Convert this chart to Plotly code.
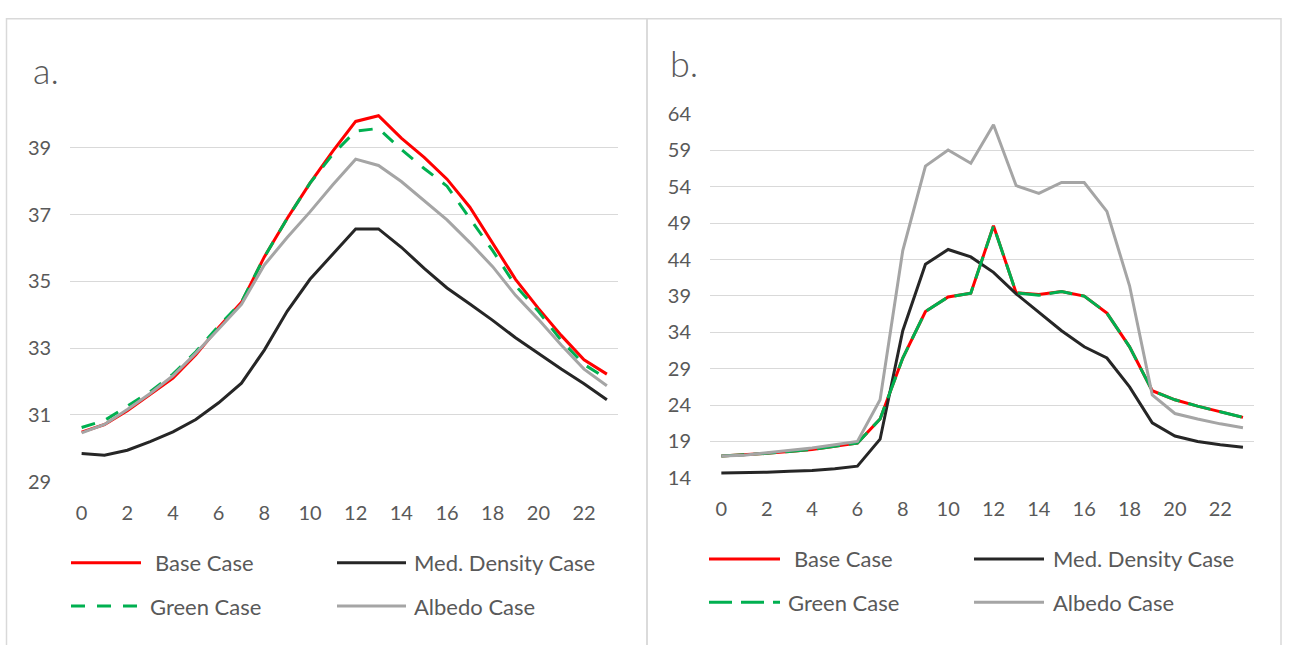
import plotly.graph_objects as go

W, H = 1289, 645

hours = list(range(24))
x_ticks = list(range(0, 24, 2))

series_names = ["Base Case", "Med. Density Case", "Green Case", "Albedo Case"]
series_colors = ["#FF0000", "#262626", "#00B050", "#A5A5A5"]

# Panel a
a_base = [30.48, 30.71, 31.12, 31.60, 32.10, 32.80, 33.62, 34.37, 35.73, 36.88, 37.94, 38.90,
          39.79, 39.96, 39.29, 38.71, 38.06, 37.22, 36.16, 35.06, 34.19, 33.38, 32.65, 32.22]
a_med = [29.84, 29.79, 29.94, 30.20, 30.49, 30.86, 31.36, 31.95, 32.94, 34.10, 35.06, 35.83,
         36.57, 36.57, 36.02, 35.39, 34.80, 34.32, 33.83, 33.31, 32.83, 32.37, 31.93, 31.45]
a_green = [30.62, 30.83, 31.26, 31.69, 32.22, 32.89, 33.66, 34.38, 35.73, 36.88, 37.94, 38.81,
           39.50, 39.58, 38.95, 38.38, 37.85, 36.88, 35.92, 34.87, 34.10, 33.23, 32.51, 32.08]
a_albedo = [30.46, 30.71, 31.16, 31.64, 32.17, 32.85, 33.57, 34.31, 35.49, 36.31, 37.08, 37.89,
            38.66, 38.47, 37.99, 37.41, 36.84, 36.16, 35.44, 34.58, 33.86, 33.09, 32.37, 31.87]
a_yticks = [29, 31, 33, 35, 37, 39]

# Panel b
b_base = [17.00, 17.13, 17.35, 17.62, 17.88, 18.33, 18.77, 22.08, 30.46, 36.86, 38.85, 39.38,
          48.64, 39.42, 39.20, 39.60, 38.98, 36.64, 32.00, 25.96, 24.72, 23.84, 23.05, 22.30]
b_med = [14.66, 14.66, 14.75, 14.88, 15.00, 15.24, 15.59, 19.30, 34.21, 43.35, 45.38, 44.36,
         42.24, 39.29, 36.73, 34.21, 32.00, 30.46, 26.49, 21.55, 19.74, 18.99, 18.55, 18.20]
b_green = [17.00, 17.13, 17.35, 17.62, 17.88, 18.33, 18.77, 22.08, 30.46, 36.86, 38.85, 39.38,
           48.64, 39.42, 39.10, 39.60, 38.98, 36.64, 32.00, 25.96, 24.72, 23.84, 23.05, 22.30]
b_albedo = [17.00, 17.09, 17.44, 17.75, 18.10, 18.55, 18.99, 24.72, 45.24, 56.85, 59.06, 57.25,
            62.54, 54.16, 53.10, 54.60, 54.60, 50.63, 40.39, 25.39, 22.83, 22.08, 21.41, 20.88]
b_yticks = [14, 19, 24, 29, 34, 39, 44, 49, 54, 59, 64]

FONT = "Lato"
TXT = "#595959"
GRID = "#D9D9D9"
DASH_A = "14px,12px"
DASH_B = "23px,9px"


def X(px):
    return px / W


def Y(py):
    return 1 - py / H


fig = go.Figure()

panels = [
    dict(xa="x", ya="y", data=[a_base, a_med, a_green, a_albedo], dash=DASH_A),
    dict(xa="x2", ya="y2", data=[b_base, b_med, b_green, b_albedo], dash=DASH_B),
]
for p in panels:
    for name, color, vals in zip(series_names, series_colors, p["data"]):
        fig.add_trace(go.Scatter(
            x=hours, y=vals, name=name, mode="lines",
            line=dict(color=color, width=3,
                      dash=p["dash"] if name == "Green Case" else "solid"),
            xaxis=p["xa"], yaxis=p["ya"], showlegend=False,
            hoverinfo="x+y+name",
        ))

xcommon = dict(tickvals=x_ticks, showgrid=False, zeroline=False, showline=False,
               ticks="", tickfont=dict(family=FONT, size=20, color=TXT),
               ticklabelstandoff=17, fixedrange=True)
ycommon = dict(showgrid=True, gridcolor=GRID, gridwidth=1, zeroline=False, showline=False,
               ticks="", tickfont=dict(family=FONT, size=20, color=TXT),
               ticklabelstandoff=18, fixedrange=True)

fig.update_layout(
    width=W, height=H,
    margin=dict(l=0, r=0, t=0, b=0),
    paper_bgcolor="white", plot_bgcolor="white",
    showlegend=False,
    xaxis=dict(domain=[X(70.2), X(618.3)], range=[-0.5, 23.5], anchor="y", **xcommon),
    yaxis=dict(domain=[Y(486.7), Y(98.4)], range=[29, 40.2], tickvals=a_yticks,
               anchor="x", **ycommon),
    xaxis2=dict(domain=[X(710), X(1254.3)], range=[-0.5, 23.5], anchor="y2", **xcommon),
    yaxis2=dict(domain=[Y(482.7), Y(105.0)], range=[14, 64], tickvals=b_yticks,
                anchor="x2", **ycommon),
)

shapes = []
annotations = []

# panel borders
shapes.append(dict(type="rect", xref="paper", yref="paper", x0=X(6.5), x1=X(647), y0=Y(700), y1=Y(6),
                   line=dict(color=GRID, width=1.5), fillcolor="rgba(0,0,0,0)", layer="below"))
shapes.append(dict(type="rect", xref="paper", yref="paper", x0=X(647), x1=X(1281), y0=Y(700), y1=Y(6),
                   line=dict(color=GRID, width=1.5), fillcolor="rgba(0,0,0,0)", layer="below"))

# panel titles
annotations.append(dict(text="a.", x=X(31), y=Y(59), xref="paper", yref="paper",
                        xanchor="left", yanchor="middle", showarrow=False,
                        font=dict(family=FONT, size=36, color=TXT, weight=300)))
annotations.append(dict(text="b.", x=X(668), y=Y(52), xref="paper", yref="paper",
                        xanchor="left", yanchor="middle", showarrow=False,
                        font=dict(family=FONT, size=36, color=TXT, weight=300)))

# manual legends
legend_layout = [
    # panel a
    dict(rows=(571, 616), cols=[(71, 141, 153), (337, 406, 412), (71, 141, 148), (337, 406, 412)],
         dash=DASH_A),
    # panel b
    dict(rows=(567, 612), cols=[(709, 780, 792), (974, 1044, 1051), (709, 780, 786), (974, 1044, 1051)],
         dash=DASH_B),
]
for lg in legend_layout:
    for i, (name, color) in enumerate(zip(series_names, series_colors)):
        row_y = lg["rows"][0] if i < 2 else lg["rows"][1]
        lx0, lx1, tx = lg["cols"][i]
        dash = lg["dash"] if name == "Green Case" else "solid"
        shapes.append(dict(type="line", xref="paper", yref="paper", x0=X(lx0), x1=X(lx1),
                           y0=Y(row_y), y1=Y(row_y), line=dict(color=color, width=3, dash=dash)))
        annotations.append(dict(text=name, x=X(tx), y=Y(row_y), xref="paper", yref="paper",
                                xanchor="left", yanchor="middle", showarrow=False,
                                font=dict(family=FONT, size=22, color=TXT)))

fig.update_layout(shapes=shapes, annotations=annotations)

fig.write_html("out.html",
               config={"displayModeBar": False},
               post_script="document.body.style.margin='0';document.body.style.padding='0';")
